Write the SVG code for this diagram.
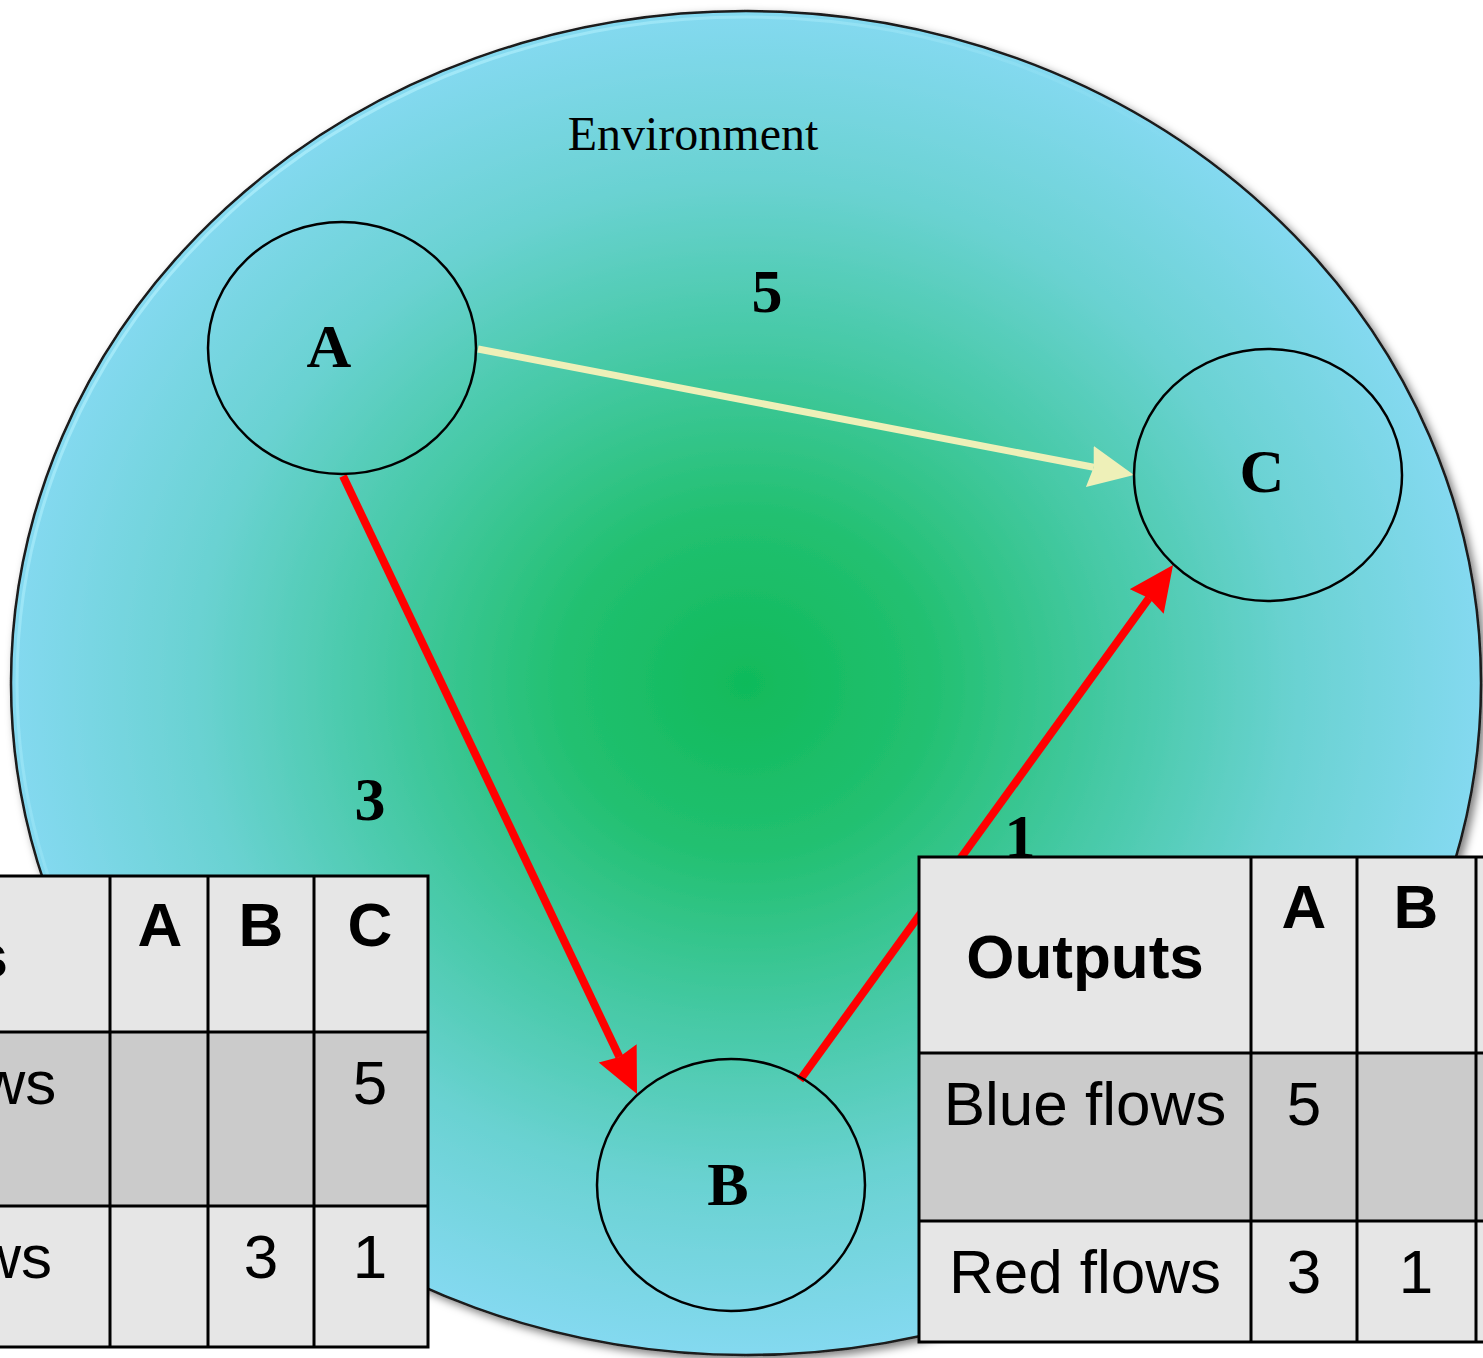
<svg xmlns="http://www.w3.org/2000/svg" width="1483" height="1358" viewBox="0 0 1483 1358">
<style>
.node{fill:none;stroke:#000;stroke-width:2.5}
.nlabel{font-family:"Liberation Serif",serif;font-weight:bold;font-size:62px;text-anchor:middle;fill:#000}
.elabel{font-family:"Liberation Serif",serif;font-weight:bold;font-size:62px;text-anchor:middle;fill:#000}
.env{font-family:"Liberation Serif",serif;font-size:48px;text-anchor:middle;fill:#000}
.red{stroke:#ff0000;stroke-width:8;fill:none}
.yel{stroke:#eef0b8;stroke-width:7;fill:none}
.grid{stroke:#000;stroke-width:3;fill:none}
.light{fill:#e6e6e6}
.dark{fill:#cbcbcb}
.th{font-family:"Liberation Sans",Arial,sans-serif;font-weight:bold;font-size:62px;text-anchor:middle;fill:#000}
.td{font-family:"Liberation Sans",Arial,sans-serif;font-size:62px;text-anchor:middle;fill:#000}
</style>
<defs>
<radialGradient id="envGrad" cx="0.5" cy="0.5" r="0.5">
<stop offset="0" stop-color="#10ba5a"/>
<stop offset="0.25" stop-color="#22c070"/>
<stop offset="0.5" stop-color="#45c9a4"/>
<stop offset="0.75" stop-color="#6ad2d2"/>
<stop offset="1" stop-color="#84d9f0"/>
</radialGradient>
<linearGradient id="hl" x1="0" y1="0" x2="1" y2="1">
<stop offset="0" stop-color="#b8f4ff" stop-opacity="0.9"/>
<stop offset="0.45" stop-color="#b8f4ff" stop-opacity="0"/>
</linearGradient>
<filter id="shadow" x="-5%" y="-5%" width="110%" height="110%">
<feDropShadow dx="4" dy="4" stdDeviation="4" flood-color="#000" flood-opacity="0.5"/>
</filter>
<marker id="arrRed" markerUnits="userSpaceOnUse" markerWidth="46" markerHeight="44" refX="4" refY="21" orient="auto" viewBox="0 0 46 44">
<path d="M0,0 L45,21 L0,42 L4,21 Z" fill="#ff0000"/>
</marker>
<marker id="arrYel" markerUnits="userSpaceOnUse" markerWidth="46" markerHeight="44" refX="4" refY="21" orient="auto" viewBox="0 0 46 44">
<path d="M0,0 L45,21 L0,42 L4,21 Z" fill="#eef0b8"/>
</marker>
</defs>
<rect width="1483" height="1358" fill="#ffffff"/>
<g id="environment">
<ellipse cx="746" cy="683" rx="735" ry="672" fill="url(#envGrad)" stroke="#1a1a1a" stroke-width="2.5" filter="url(#shadow)"/>
<ellipse cx="746" cy="683" rx="729" ry="666" fill="none" stroke="url(#hl)" stroke-width="3"/>
<text class="env" x="693" y="150">Environment</text>
</g>
<g id="connectors">
<line class="yel" x1="478" y1="349" x2="1093.7" y2="467.3" marker-end="url(#arrYel)"/>
<line class="red" x1="343" y1="476" x2="619.4" y2="1057" marker-end="url(#arrRed)"/>
<line class="red" x1="800" y1="1080" x2="1149" y2="598.2" marker-end="url(#arrRed)"/>
<text class="elabel" x="767" y="312">5</text>
<text class="elabel" x="370" y="820">3</text>
<text class="elabel" x="1020" y="857">1</text>
</g>
<g id="nodeA">
<ellipse class="node" cx="342" cy="348" rx="134" ry="126"/>
<text class="nlabel" x="329" y="367">A</text>
</g>
<g id="nodeC">
<ellipse class="node" cx="1268" cy="475" rx="134" ry="126"/>
<text class="nlabel" x="1262" y="492">C</text>
</g>
<g id="nodeB">
<ellipse class="node" cx="731" cy="1185" rx="134" ry="126"/>
<text class="nlabel" x="728" y="1205">B</text>
</g>
<g id="inputsTable">
<rect class="light" x="-260" y="876" width="688" height="156"/>
<rect class="dark" x="-260" y="1032" width="688" height="174"/>
<rect class="light" x="-260" y="1206" width="688" height="141"/>
<path class="grid" d="M-260,876 H428 V1347 H-260 M-260,1032 H428 M-260,1206 H428 M110,876 V1347 M208,876 V1347 M314,876 V1347"/>
<text class="th" x="-85" y="977">Inputs</text>
<text class="th" x="160" y="946">A</text>
<text class="th" x="261" y="946">B</text>
<text class="th" x="370" y="946">C</text>
<text class="td" x="-85" y="1104">Blue flows</text>
<text class="td" x="370" y="1104">5</text>
<text class="td" x="-84" y="1278">Red flows</text>
<text class="td" x="261" y="1278">3</text>
<text class="td" x="370" y="1278">1</text>
</g>
<g id="outputsTable">
<rect class="light" x="919" y="857" width="700" height="196"/>
<rect class="dark" x="919" y="1053" width="700" height="168"/>
<rect class="light" x="919" y="1221" width="700" height="121"/>
<path class="grid" d="M1619,857 H919 V1342 H1619 M919,1053 H1619 M919,1221 H1619 M1251,857 V1342 M1357,857 V1342 M1476,857 V1342"/>
<text class="th" x="1085" y="978">Outputs</text>
<text class="th" x="1304" y="928">A</text>
<text class="th" x="1416" y="928">B</text>
<text class="td" x="1085" y="1125">Blue flows</text>
<text class="td" x="1304" y="1125">5</text>
<text class="td" x="1085" y="1293">Red flows</text>
<text class="td" x="1304" y="1293">3</text>
<text class="td" x="1416" y="1293">1</text>
</g>
</svg>
